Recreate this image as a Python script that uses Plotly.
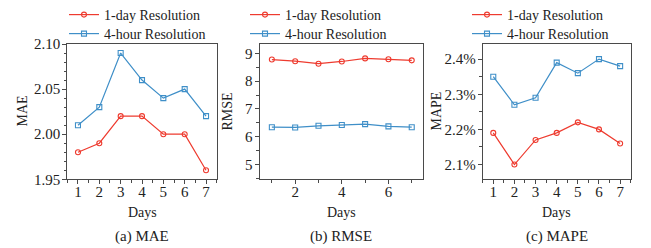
import plotly.graph_objects as go

days = [1, 2, 3, 4, 5, 6, 7]
series_names = ["1-day Resolution", "4-hour Resolution"]

mae_1day = [1.98, 1.99, 2.02, 2.02, 2.00, 2.00, 1.96]
mae_4hour = [2.01, 2.03, 2.09, 2.06, 2.04, 2.05, 2.02]

rmse_1day = [8.78, 8.72, 8.63, 8.71, 8.82, 8.79, 8.75]
rmse_4hour = [6.34, 6.33, 6.39, 6.42, 6.45, 6.37, 6.34]

mape_1day = [2.19, 2.10, 2.17, 2.19, 2.22, 2.20, 2.16]
mape_4hour = [2.35, 2.27, 2.29, 2.39, 2.36, 2.40, 2.38]

panel_titles = ["(a) MAE", "(b) RMSE", "(c) MAPE"]
y_titles = ["MAE", "RMSE", "MAPE"]

RED = "#ee3b2f"
BLUE = "#3f8fc8"
AX = "#4a4a4a"
FONT = "Liberation Serif, Times New Roman, serif"
W, H = 651, 248

def px_x(v):
    return v / W

def px_y(v):
    return 1 - v / H

fig = go.Figure()

panels = [
    (mae_1day, mae_4hour),
    (rmse_1day, rmse_4hour),
    (mape_1day, mape_4hour),
]
axis_ids = [("x", "y"), ("x2", "y2"), ("x3", "y3")]
legend_ids = ["legend", "legend2", "legend3", "legend4", "legend5", "legend6"]

for i, (s1, s2) in enumerate(panels):
    xa, ya = axis_ids[i]
    fig.add_trace(go.Scatter(
        x=days, y=s1, name=series_names[0], mode="lines+markers",
        line=dict(color=RED, width=1.2),
        marker=dict(symbol="circle-open", size=5, color=RED, line=dict(width=1.1)),
        xaxis=xa, yaxis=ya, legend=legend_ids[2 * i]))
    fig.add_trace(go.Scatter(
        x=days, y=s2, name=series_names[1], mode="lines+markers",
        line=dict(color=BLUE, width=1.2),
        marker=dict(symbol="square-open", size=5, color=BLUE, line=dict(width=1.1)),
        xaxis=xa, yaxis=ya, legend=legend_ids[2 * i + 1]))

x_domains = [(67.3, 216.7), (259.5, 422.7), (482.7, 630.7)]
y_dom = [px_y(179.3), px_y(44)]

common_axis = dict(
    showline=True, linecolor=AX, linewidth=1, mirror=True,
    ticks="outside", ticklen=4, tickwidth=1, tickcolor=AX,
    showgrid=False, zeroline=False,
    tickfont=dict(family=FONT, size=15, color="#222"),
)

x_cfg = [
    dict(tickmode="linear", tick0=1, dtick=1, range=[0.5, 7.5], ticklabelstandoff=-5,
         minor=dict(ticks="outside", ticklen=2.5, dtick=0.5, tick0=0.5, tickcolor=AX)),
    dict(tickmode="linear", tick0=2, dtick=2, range=[0.47, 7.47], ticklabelstandoff=-5,
         minor=dict(ticks="outside", ticklen=2.5, dtick=1, tick0=1, tickcolor=AX)),
    dict(tickmode="linear", tick0=1, dtick=1, range=[0.5, 7.5], ticklabelstandoff=-5,
         minor=dict(ticks="outside", ticklen=2.5, dtick=0.5, tick0=0.5, tickcolor=AX)),
]
y_cfg = [
    dict(range=[1.95, 2.10], tickmode="linear", tick0=1.95, dtick=0.05, tickformat=".2f",
         ticklabelstandoff=-1,
         minor=dict(ticks="outside", ticklen=2.5, dtick=0.01, tick0=1.95, tickcolor=AX)),
    dict(range=[4.46, 9.34], tickmode="linear", tick0=5, dtick=1, ticklabelstandoff=-1,
         minor=dict(ticks="outside", ticklen=2.5, dtick=0.5, tick0=5, tickcolor=AX)),
    dict(range=[2.058, 2.443], tickmode="linear", tick0=2.1, dtick=0.1, tickformat=".1f",
         ticksuffix="%", ticklabelstandoff=-1,
         minor=dict(ticks="outside", ticklen=2.5, dtick=0.05, tick0=2.1, tickcolor=AX)),
]

layout = dict(
    width=W, height=H, margin=dict(l=0, r=0, t=0, b=0, autoexpand=False),
    paper_bgcolor="white", plot_bgcolor="white",
    font=dict(family=FONT, size=14, color="#222"),
    showlegend=True,
)

names_x = ["xaxis", "xaxis2", "xaxis3"]
names_y = ["yaxis", "yaxis2", "yaxis3"]
for i in range(3):
    xd = [px_x(x_domains[i][0]), px_x(x_domains[i][1])]
    layout[names_x[i]] = dict(common_axis, domain=xd, anchor=axis_ids[i][1], **x_cfg[i])
    layout[names_y[i]] = dict(common_axis, domain=y_dom, anchor=axis_ids[i][0], **y_cfg[i])

legend_x = [64, 245, 467]
legend_rows = [15, 34]
for i, lid in enumerate(legend_ids):
    layout[lid] = dict(
        x=px_x(legend_x[i // 2]), y=px_y(legend_rows[i % 2]),
        xanchor="left", yanchor="middle",
        bgcolor="rgba(0,0,0,0)", borderwidth=0,
        font=dict(family=FONT, size=14, color="#222"),
        tracegroupgap=0, itemwidth=30,
    )

fig.update_layout(**layout)

annotations = []
title_x = [22, 227, 436]
for i in range(3):
    cx = (x_domains[i][0] + x_domains[i][1]) / 2
    annotations.append(dict(text=panel_titles[i], x=px_x(cx), y=px_y(236),
                            xref="paper", yref="paper", showarrow=False,
                            xanchor="center", yanchor="middle",
                            font=dict(family=FONT, size=15, color="#222")))
    annotations.append(dict(text="Days", x=px_x(cx), y=px_y(212),
                            xref="paper", yref="paper", showarrow=False,
                            xanchor="center", yanchor="middle",
                            font=dict(family=FONT, size=14, color="#222")))
    annotations.append(dict(text=y_titles[i], x=px_x(title_x[i]), y=px_y(111.5),
                            xref="paper", yref="paper", showarrow=False,
                            textangle=-90, xanchor="center", yanchor="middle",
                            font=dict(family=FONT, size=14, color="#222")))
fig.update_layout(annotations=annotations)

fig.write_html("out.html", config={"displayModeBar": False},
               post_script="document.body.style.margin='0';document.body.style.overflow='hidden';")
